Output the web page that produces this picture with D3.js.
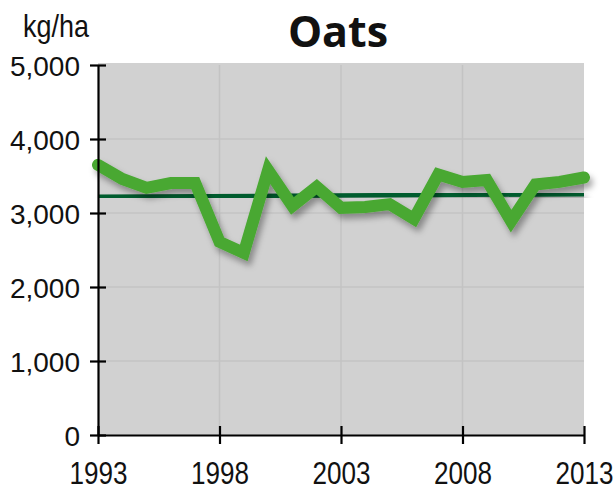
<!DOCTYPE html>
<html>
<head>
<meta charset="utf-8">
<script src="https://cdn.jsdelivr.net/npm/d3@7"></script>
<style>
  body { margin: 0; background: #fff; }
  svg { display: block; }
</style>
</head>
<body>
<div id="wrapper"></div>
<script>
// yield per year, kg/ha
const years = d3.range(1993, 2014)
const yields = [3650, 3460, 3340, 3405, 3405, 2610, 2460, 3580, 3095, 3355, 3070,
  3080, 3120, 2920, 3520, 3420, 3445, 2890, 3385, 3420, 3480]
const trendYears = [1993, 2013]
const trendValues = [3220, 3253]
const xTicks = [1993, 1998, 2003, 2008, 2013]
const yTicks = [0, 1000, 2000, 3000, 4000, 5000]

let dimensions = {
  width: 616,
  height: 491,
  margin: { top: 65, right: 32, bottom: 56, left: 98 },
}
dimensions.boundedWidth = dimensions.width - dimensions.margin.left - dimensions.margin.right
dimensions.boundedHeight = dimensions.height - dimensions.margin.top - dimensions.margin.bottom

const svg = d3.select("#wrapper")
  .append("svg")
    .attr("width", dimensions.width)
    .attr("height", dimensions.height)

const defs = svg.append("defs")
const shadow = defs.append("filter").attr("id", "shadow")
  .attr("x", "-10%").attr("y", "-30%").attr("width", "120%").attr("height", "160%")
shadow.append("feDropShadow")
  .attr("dx", 3).attr("dy", 5).attr("stdDeviation", 3)
  .attr("flood-color", "#000").attr("flood-opacity", 0.35)

const bounds = svg.append("g")
  .attr("transform", `translate(${dimensions.margin.left},${dimensions.margin.top})`)

const xScale = d3.scaleLinear()
  .domain([1993, 2013])
  .range([0, dimensions.boundedWidth])
const yScale = d3.scaleLinear()
  .domain([0, 5000])
  .range([dimensions.boundedHeight, 0])

// plot background + grid
bounds.append("rect")
  .attr("y", -2)
  .attr("width", dimensions.boundedWidth)
  .attr("height", dimensions.boundedHeight + 2)
  .attr("fill", "#d1d1d1")

bounds.append("g").selectAll("line")
  .data(yTicks.slice(1, -1))
  .join("line")
    .attr("x1", 0).attr("x2", dimensions.boundedWidth)
    .attr("y1", d => yScale(d)).attr("y2", d => yScale(d))
    .attr("stroke", "#c3c3c3").attr("stroke-width", 1.5)
bounds.append("g").selectAll("line")
  .data(xTicks.slice(1, -1))
  .join("line")
    .attr("x1", d => xScale(d)).attr("x2", d => xScale(d))
    .attr("y1", 0).attr("y2", dimensions.boundedHeight)
    .attr("stroke", "#c3c3c3").attr("stroke-width", 1.5)

// trend line
const lineGen = d3.line()
  .x(d => xScale(d[0]))
  .y(d => yScale(d[1]))

bounds.append("path")
  .attr("d", lineGen(d3.zip(trendYears, trendValues)))
  .attr("fill", "none")
  .attr("stroke", "#005c2d")
  .attr("stroke-width", 4.5)
  .attr("filter", "url(#shadow)")

// yield line
bounds.append("path")
  .attr("d", lineGen(d3.zip(years, yields)))
  .attr("fill", "none")
  .attr("stroke", "#48a831")
  .attr("stroke-width", 12)
  .attr("stroke-linecap", "round")
  .attr("stroke-linejoin", "miter")
  .attr("filter", "url(#shadow)")

// axes
const yAxis = bounds.append("g")
  .call(d3.axisLeft(yScale).tickValues(yTicks).tickFormat(d3.format(",")).tickSize(9).tickPadding(9).tickSizeOuter(0))
yAxis.select(".domain").attr("stroke-width", 2.2)
yAxis.selectAll(".tick line").attr("x2", 8).attr("x1", -8).attr("stroke-width", 2.2)
yAxis.selectAll("text")
  .style("font-family", "'Liberation Sans', Arial, sans-serif")
  .style("font-size", "28px")
  .attr("fill", "#111")
  .attr("dy", "0.36em")

const xAxis = bounds.append("g")
  .attr("transform", `translate(0,${dimensions.boundedHeight})`)
  .call(d3.axisBottom(xScale).tickValues(xTicks).tickFormat(d3.format("d")).tickSize(9).tickPadding(18).tickSizeOuter(0))
xAxis.select(".domain").attr("stroke-width", 2.2)
xAxis.selectAll(".tick line").attr("y1", -9).attr("y2", 9).attr("stroke-width", 2.2)
xAxis.selectAll("text")
  .style("font-family", "'Liberation Sans', Arial, sans-serif")
  .style("font-size", "31px")
  .attr("fill", "#111")
  .attr("textLength", 58)
  .attr("lengthAdjust", "spacingAndGlyphs")

// labels
svg.append("text")
  .attr("x", 23).attr("y", 37)
  .style("font-family", "'Liberation Sans', Arial, sans-serif")
  .style("font-size", "32px")
  .attr("fill", "#111")
  .attr("textLength", 66)
  .attr("lengthAdjust", "spacingAndGlyphs")
  .text("kg/ha")

svg.append("text")
  .attr("x", 338).attr("y", 47)
  .attr("text-anchor", "middle")
  .style("font-family", "'Open Sans', sans-serif")
  .style("font-weight", "bold")
  .style("font-size", "43px")
  .attr("fill", "#111")
  .text("Oats")
</script>
</body>
</html>
